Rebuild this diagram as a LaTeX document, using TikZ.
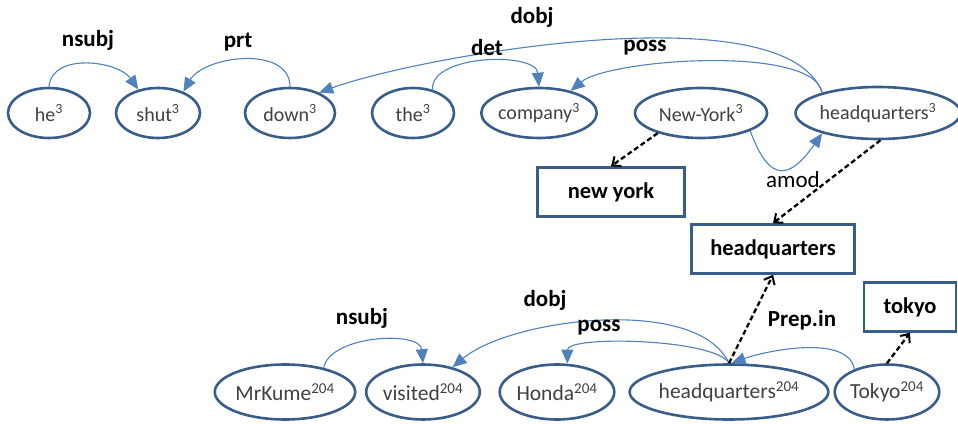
\documentclass[tikz,border=0pt]{standalone}
\usepackage{fontspec}
\setmainfont{Carlito}
\usetikzlibrary{arrows.meta,shapes.geometric}
\definecolor{wordblue}{RGB}{56,93,138}
\definecolor{deplink}{RGB}{79,129,189}
\definecolor{wordtext}{RGB}{64,64,64}
\tikzset{word/.style={ellipse,draw=wordblue,line width=2.6pt,inner sep=0pt,
    minimum height=50pt,text=wordtext,font=\fontsize{20}{22}\selectfont}}
\tikzset{wordlow/.style={word,minimum height=55pt,font=\fontsize{21.5}{24}\selectfont}}
\tikzset{concept/.style={rectangle,draw=wordblue,line width=2.6pt,inner sep=0pt,
    minimum height=49pt,font=\bfseries\fontsize{22.5}{25}\selectfont}}
\tikzset{dep/.style={-{Triangle[length=14pt,width=12pt]},draw=deplink,line width=1.1pt}}
\tikzset{deplabel/.style={font=\bfseries\fontsize{23}{26}\selectfont}}
\tikzset{link/.style={-{Straight Barb[length=7pt,width=12pt,line width=2pt]},
    dash pattern=on 5pt off 3pt,line width=2.3pt,black}}

\begin{document}
\begin{tikzpicture}[x=1pt,y=1pt]
\useasboundingbox (0,0) rectangle (958,423);
% \draw[help lines,step=50] (0,0) grid (958,423);
\node (he3) [word,minimum width=82pt] at (49,310) {he\textsuperscript{3}};
\node (shut3) [word,minimum width=84pt] at (158,310) {shut\textsuperscript{3}};
\node (down3) [word,minimum width=90pt] at (290,310) {down\textsuperscript{3}};
\node (the3) [word,minimum width=82pt] at (413,310) {the\textsuperscript{3}};
\node (comp3) [word,minimum width=100pt] at (539,310) {company\textsuperscript{3}};
\node (ny3) [word,minimum width=132pt] at (701,310) {New-York\textsuperscript{3}};
\node (hq3) [word,minimum width=150pt,minimum height=52pt] at (878,310) {headquarters\textsuperscript{3}};
%
\node (nybox) [concept,minimum width=147pt] at (611,231) {new york};
\node (hqbox) [concept,minimum width=163pt] at (773,174) {headquarters};
\node (tokyobox) [concept,minimum width=92pt] at (910,116) {tokyo};
%
\node (kume) [wordlow,minimum width=100pt] at (285,31) {MrKume\textsuperscript{204}};
\node (visited) [wordlow,minimum width=100pt] at (423,31) {visited\textsuperscript{204}};
\node (honda) [wordlow,minimum width=88pt] at (557,31) {Honda\textsuperscript{204}};
\node (hq204) [wordlow,minimum width=155pt] at (729,31) {headquarters\textsuperscript{204}};
\node (tokyo204) [wordlow,minimum width=99pt] at (887,31) {Tokyo\textsuperscript{204}};

% sentence 3
\draw[dep] (he3.north) to[out=85,in=125] (shut3.130);
\draw[dep] (down3.north) to[out=90,in=60] (shut3.40);
\draw[dep] (the3.50) to[out=95,in=95,looseness=0.85] (comp3.north);
\draw[dep] (hq3.160) to[out=100,in=40,looseness=0.5] (comp3.35);
\draw[dep] (hq3.160) to[out=110,in=20,looseness=0.55] (down3.35);
\draw[dep] (ny3.-20) to[out=-70,in=-125,looseness=2] (hq3.-160);
\node (lnsubj3) [deplabel] at (88,383) {nsubj};
\node (lprt) [deplabel] at (238,381) {prt};
\node (ldobj3) [deplabel] at (532,406) {dobj};
\node (ldet) [deplabel] at (487,375) {det};
\node (lposs3) [deplabel] at (645,375) {poss};
\node (lamod) [font=\fontsize{23}{26}\selectfont] at (793,243) {amod};

% sentence 204
\draw[dep] (kume.32) to[out=80,in=95,looseness=0.85] (visited.north);
\draw[dep] (hq204.north) to[out=115,in=40,looseness=0.7] (visited.40);
\draw[dep] (hq204.north) to[out=120,in=90,looseness=0.45] (honda.70);
\draw[dep] (tokyo204.145) to[out=100,in=20,looseness=0.75] (hq204.85);
\node (lnsubj204) [deplabel] at (362,105) {nsubj};
\node (ldobj204) [deplabel] at (545,123) {dobj};
\node (lposs204) [deplabel] at (599,95) {poss};
\node (lprep) [deplabel] at (802,103) {Prep.in};

% links to concepts
\draw[link] (ny3.-155) -- (nybox.north);
\draw[link] (hq3.-85) -- (hqbox.north);
\draw[link] (hq204.north) -- (hqbox.south);
\draw[link] (tokyo204.north) -- (tokyobox.south);
\end{tikzpicture}
\end{document}
